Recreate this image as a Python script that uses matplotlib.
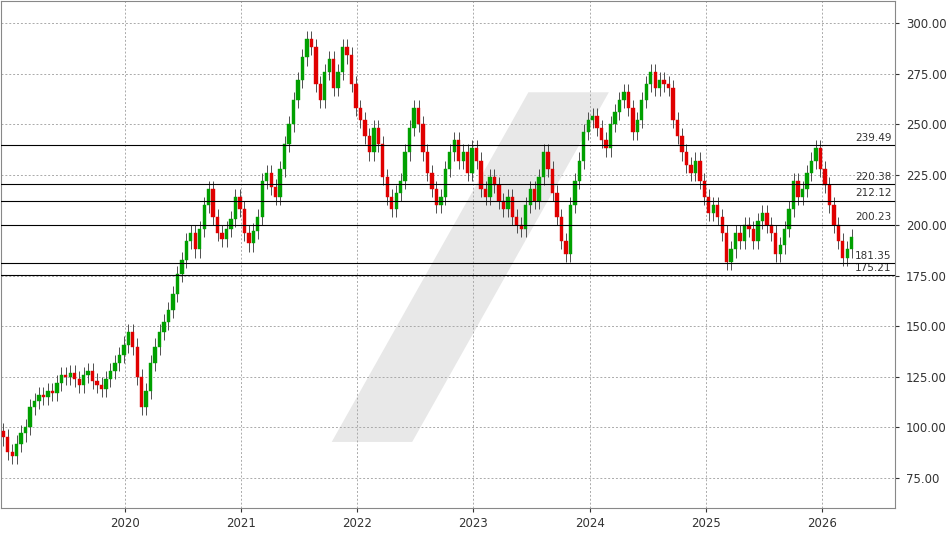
import numpy as np
import matplotlib.pyplot as plt
from matplotlib.patches import Polygon

start = 2018.95
step = 1 / 26
closes = [
    95, 88, 86, 92, 97, 100, 110, 113, 116, 115, 118, 117, 122, 126, 125, 127, 124, 121, 126, 128, 123, 121, 119, 124, 128, 132,
    136, 141, 147, 140, 125, 110, 118, 132, 140, 147, 152, 158, 166, 176, 183, 192, 196, 188, 198, 210, 218, 204, 196, 193, 198, 203,
    214, 208, 196, 191, 197, 204, 222, 226, 219, 214, 228, 240, 250, 262, 272, 283, 292, 288, 270, 262, 276, 282, 268, 276, 288, 284,
    270, 258, 252, 244, 236, 248, 240, 224, 214, 208, 216, 222, 236, 248, 258, 250, 236, 226, 218, 210, 214, 228, 236, 242, 232, 236,
    226, 238, 232, 218, 214, 224, 220, 212, 208, 214, 204, 200, 198, 210, 218, 212, 224, 236, 228, 216, 204, 192, 186, 210, 222, 232,
    246, 252, 254, 248, 242, 238, 250, 256, 262, 266, 258, 246, 252, 262, 270, 276, 268, 272, 270, 268, 252, 244, 236, 230, 226, 232,
    222, 214, 206, 210, 204, 196, 182, 188, 196, 192, 200, 198, 192, 202, 206, 200, 196, 186, 190, 198, 208, 222, 214, 218, 226, 232,
    238, 228, 220, 210, 200, 192, 184, 188, 194,
]
levels = [239.49, 220.38, 212.12, 200.23, 181.35, 175.21]
years = [2020, 2021, 2022, 2023, 2024, 2025, 2026]
yticks = [75, 100, 125, 150, 175, 200, 225, 250, 275, 300]

fig = plt.figure(figsize=(9.48, 5.34), dpi=100)
ax = fig.add_axes([0.001, 0.049, 0.943, 0.949])

# watermark
ax.add_patch(Polygon([(0.37, 0.13), (0.46, 0.13), (0.68, 0.82), (0.59, 0.82)],
                     closed=True, transform=ax.transAxes, fc="#e8e8e8", ec="none", zorder=0))

opens = [closes[0] + 3] + closes[:-1]
for i, (o, c) in enumerate(zip(opens, closes)):
    x = start + i * step
    col = "#00a000" if c >= o else "#e00000"
    lo, hi = min(o, c), max(o, c)
    ax.vlines(x, lo - 4, hi + 4, color="#333333", lw=0.6, zorder=2)
    ax.bar(x, max(hi - lo, 0.8), bottom=lo, width=step * 0.75, color=col,
           edgecolor=col, lw=0.3, zorder=3)

for lv in levels:
    ax.axhline(lv, color="black", lw=0.8, zorder=4)
    ax.text(2026.6, lv + 1.2, f"{lv:.2f}", ha="right", va="bottom", fontsize=7.5, color="#333333")

ax.set_xlim(2018.93, 2026.63)
ax.set_ylim(60.2, 310.9)
ax.set_xticks(years)
ax.set_xticklabels([str(y) for y in years])
ax.set_yticks(yticks)
ax.set_yticklabels([f"{v:.2f}" for v in yticks])
ax.yaxis.tick_right()
ax.tick_params(labelsize=8.5, colors="#333333", length=3)
ax.tick_params(axis="y", pad=5)
ax.grid(True, ls=(0, (2, 2)), color="#aaaaaa", lw=0.7)
for s in ax.spines.values():
    s.set_color("#888888")

fig.savefig("out.png", dpi=100)
